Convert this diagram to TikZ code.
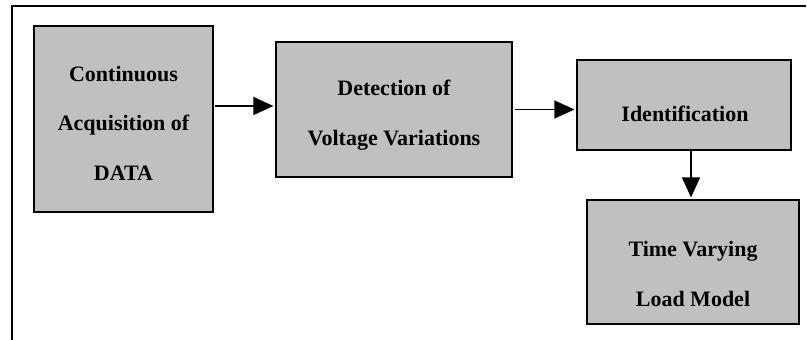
\documentclass[tikz,border=0pt]{standalone}
\usepackage{fontspec}
\setmainfont{Liberation Serif}
\usetikzlibrary{arrows.meta}
\definecolor{boxgray}{HTML}{C0C0C0}
\tikzset{
  blockbox/.style={draw=black, line width=1.2pt, fill=boxgray, inner sep=0pt},
  lbl/.style={anchor=base, align=center, inner sep=0pt, font=\fontsize{22}{49.5}\selectfont\bfseries},
  arr/.style={line width=1.4pt, -{Triangle[length=20pt,width=18pt]}, shorten >=2pt},
  frame/.style={line width=1.6pt}
}
\begin{document}
\begin{tikzpicture}[x=1pt,y=-1pt]
\useasboundingbox (0,0) rectangle (807,340);
% outer frame (open)
\coordinate (fb) at (12,340);
\coordinate (ftl) at (12,6);
\coordinate (ftr) at (806,6);
\draw[frame] (fb) -- (ftl) -- (ftr);
% boxes
\node[blockbox, minimum width=179pt, minimum height=186pt] (b1) at (123.5,119) {};
\node[blockbox, minimum width=236pt, minimum height=135pt] (b2) at (394,109.5) {};
\node[blockbox, minimum width=214pt, minimum height=90pt] (b3) at (684,105) {};
\node[blockbox, minimum width=212pt, minimum height=124pt] (b4) at (693,262) {};
% labels (anchored at the baseline of the last line)
\node[lbl] (t1) at (123.5,180) {Continuous\\Acquisition of\\DATA};
\node[lbl] (t2) at (394,145) {Detection of\\Voltage Variations};
\node[lbl] (t3) at (685,121) {Identification};
\node[lbl] (t4) at (693,306) {Time Varying\\Load Model};
% arrows
\draw[arr] ([xshift=1pt,yshift=13pt]b1.east) -- ([yshift=13pt]b1.east -| b2.west);
\draw[arr] ([xshift=2pt]b2.east) -- (b2.east -| b3.west);
\draw[arr] ([xshift=-2pt]b3.south -| b4.north) -- ([xshift=-2pt]b4.north);
\end{tikzpicture}
\end{document}
